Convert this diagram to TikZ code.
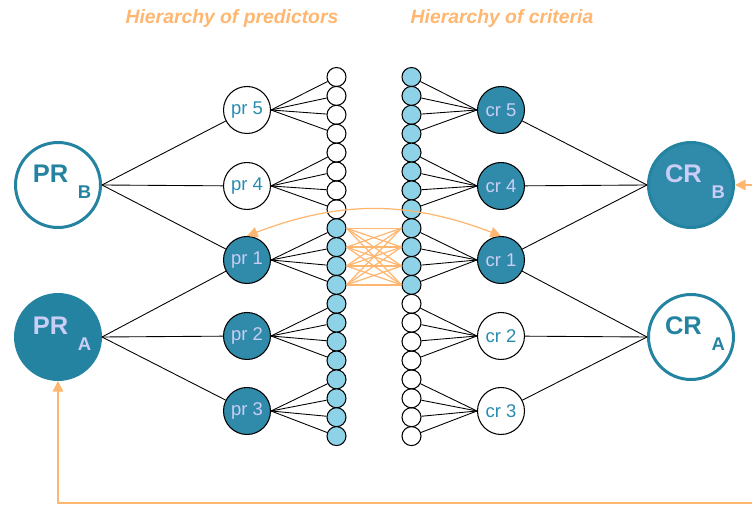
\documentclass[tikz,border=0pt]{standalone}
\usepackage{fontspec}
\setmainfont{Liberation Sans}
\usetikzlibrary{arrows.meta}

\definecolor{deepteal}{RGB}{35,131,160}
\definecolor{midteal}{RGB}{48,139,171}
\definecolor{tealtext}{RGB}{38,140,176}
\definecolor{lavender}{RGB}{202,206,246}
\definecolor{skyblue}{RGB}{141,210,230}
\definecolor{peach}{RGB}{255,182,112}

\newcommand\headlabel[2]{\kern4.5pt#1\hspace{5.5pt}%
  \raisebox{-9pt}[0pt][13pt]{\fontsize{10.5}{12}\selectfont #2}}

\tikzset{
  dot/.style={circle, draw, line width=.6pt, minimum size=.38cm, inner sep=0pt},
  skydot/.style={dot, fill=skyblue},
  rung/.style={circle, draw, line width=.6pt, minimum size=.94cm, inner sep=0pt,
    text=tealtext, font=\fontsize{10.5}{12}\selectfont},
  darkrung/.style={rung, fill=midteal, text=lavender},
  headnode/.style={circle, draw=deepteal, line width=1.7pt, minimum size=1.7cm,
    inner sep=0pt, text=deepteal, font=\fontsize{14.5}{16}\selectfont\bfseries},
  darkhead/.style={headnode, fill=deepteal, text=lavender},
  link/.style={line width=.5pt},
  feedback/.style={draw=peach, line width=.7pt},
  heading/.style={text=peach, font=\fontsize{11}{13}\selectfont\bfseries\itshape},
  tip/.style={-{Triangle[length=6pt,width=6pt]}}
}

\begin{document}
\begin{tikzpicture}[x=.02cm, y=-.02cm]
  \useasboundingbox (0,0) rectangle (752,506);

  % headings
  \node[heading] (hpred) at (232,19) {Hierarchy of predictors};
  \node[heading] (hcrit) at (502,19) {Hierarchy of criteria};

  % predictors and criteria
  \node[headnode] (prB) at (58,185) {\headlabel{PR}{B}};
  \node[darkhead] (prA) at (58,337) {\headlabel{PR}{A}};
  \node[darkhead, fill=midteal] (crB) at (691,185) {\headlabel{CR}{B}};
  \node[headnode] (crA) at (691,337) {\headlabel{CR}{A}};

  \node[rung]     (pr5) at (247,110) {pr 5};
  \node[rung]     (pr4) at (247,186) {pr 4};
  \node[darkrung] (pr1) at (247,260) {pr 1};
  \node[darkrung] (pr2) at (247,336) {pr 2};
  \node[darkrung] (pr3) at (247,411) {pr 3};

  \node[darkrung] (cr5) at (501,110) {cr 5};
  \node[darkrung] (cr4) at (501,186) {cr 4};
  \node[darkrung] (cr1) at (501,260) {cr 1};
  \node[rung]     (cr2) at (501,336) {cr 2};
  \node[rung]     (cr3) at (501,411) {cr 3};

  % item columns
  \foreach \i in {1,...,8}
    \node[dot] (l\i) at (336.5, 58.1+18.9*\i) {};
  \foreach \i in {9,...,20}
    \node[skydot] (l\i) at (336.5, 58.1+18.9*\i) {};
  \foreach \i in {1,...,12}
    \node[skydot] (r\i) at (411.5, 58.1+18.9*\i) {};
  \foreach \i in {13,...,20}
    \node[dot] (r\i) at (411.5, 58.1+18.9*\i) {};

  % links
  \foreach \n in {pr5,pr4,pr1} \draw[link] (prB.east) -- (\n);
  \foreach \n in {pr1,pr2,pr3} \draw[link] (prA.east) -- (\n);
  \foreach \n in {cr5,cr4,cr1} \draw[link] (crB.west) -- (\n);
  \foreach \n in {cr1,cr2,cr3} \draw[link] (crA.west) -- (\n);

  \foreach \n [count=\g from 0] in {pr5,pr4,pr1,pr2,pr3}
    \foreach \k in {1,...,4} {
      \pgfmathtruncatemacro\m{4*\g+\k}
      \draw[link] (\n.east) -- (l\m);
    }
  \foreach \n [count=\g from 0] in {cr5,cr4,cr1,cr2,cr3}
    \foreach \k in {1,...,4} {
      \pgfmathtruncatemacro\m{4*\g+\k}
      \draw[link] (\n.west) -- (r\m);
    }

  % feedback
  \foreach \a in {9,...,12}
    \foreach \b in {9,...,12}
      \draw[feedback] (l\a.east) -- (r\b.west);

  \draw[feedback, {Triangle[length=6pt,width=6pt]}-{Triangle[length=6pt,width=6pt]}]
    (pr1.north) to[bend left=21] (cr1.north);

  \coordinate (loopin) at (752,503);
  \coordinate (crin) at (752,185);
  \draw[feedback, tip] (loopin) -| (prA.south);
  \draw[feedback, tip] (crin) -- (crB.east);
\end{tikzpicture}
\end{document}
